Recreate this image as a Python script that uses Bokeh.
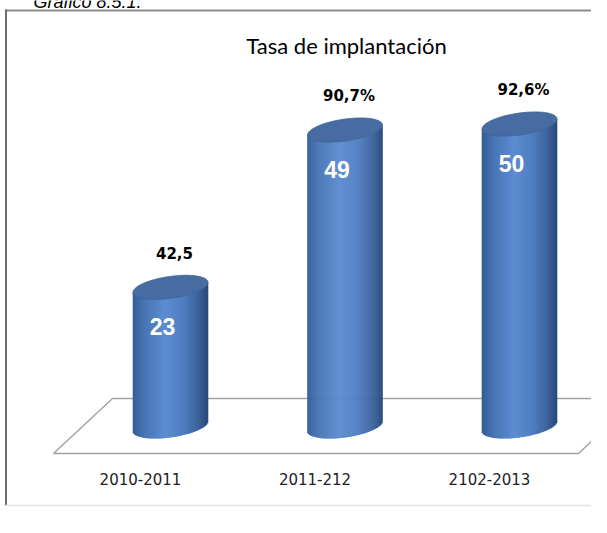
import numpy as np
from bokeh.plotting import figure
from bokeh.models import ColumnDataSource
from bokeh.core.properties import value
from bokeh.embed import file_html
from bokeh.resources import INLINE

# ---- data ----
categories = ["2010-2011", "2011-212", "2102-2013"]
counts = [23, 49, 50]
rate_labels = ["42,5", "90,7%", "92,6%"]
title_text = "Tasa de implantación"
caption_text = "Gráfico 8.5.1."

# ---- layout constants (pixels) ----
W, H = 591, 517
KX = 174.5      # px per category step
KY = 6.05       # px per unit
X0 = 170        # px position of first category
BASE = 426      # px (from top) of value 0
x_start = -X0 / KX
x_end = x_start + W / KX
y_end = BASE / KY
y_start = y_end - H / KY


def dx(px):
    return x_start + px / KX


def dy(py):
    return y_end - py / KY


HW = 37.5 / KX   # half bar width (data units)
B = 11.0 / KY    # ellipse half height
T = 5.0 / KY     # tilt

p = figure(width=W, height=H, x_range=(x_start, x_end), y_range=(y_start, y_end),
           x_axis_type=None, y_axis_type=None, toolbar_location=None,
           output_backend="svg", min_border=0, outline_line_color=None,
           background_fill_color="white", border_fill_color="white")
p.xgrid.visible = False
p.ygrid.visible = False

# caption (cut at the top, as in the source image)
p.text(x=[dx(33)], y=[dy(1.5)], text=[caption_text],
       text_font=value("Liberation Sans"), text_font_style="italic", text_font_size="18px",
       text_color="black", text_align="left", text_baseline="alphabetic")

# frame lines
p.segment(x0=[dx(5)], y0=[dy(10)], x1=[dx(W + 20)], y1=[dy(10)], line_color="#8C8C8C", line_width=2)
p.segment(x0=[dx(5.5)], y0=[dy(9)], x1=[dx(5.5)], y1=[dy(505)], line_color="#6E6E6E", line_width=2)
p.segment(x0=[dx(5)], y0=[dy(505)], x1=[dx(W + 20)], y1=[dy(505)], line_color="#E3E3E3", line_width=1.5)

# floor
p.patch(x=[dx(112), dx(637), dx(578), dx(53)], y=[dy(398), dy(398), dy(453), dy(453)],
        fill_color="white", line_color="#A3A3A3", line_width=1.5)

# gradient for cylinder body
stops_u = [-1.0, -0.7, -0.15, 0.35, 0.75, 1.0]
stops_c = [(52, 92, 150), (72, 116, 180), (91, 141, 209), (80, 126, 192), (60, 99, 158), (40, 72, 122)]


def grad(u):
    r = np.interp(u, stops_u, [c[0] for c in stops_c])
    g = np.interp(u, stops_u, [c[1] for c in stops_c])
    b = np.interp(u, stops_u, [c[2] for c in stops_c])
    return "#%02x%02x%02x" % (int(round(r)), int(round(g)), int(round(b)))


N = 75
sx, stop, sbot, scol = [], [], [], []
for i, v in enumerate(counts):
    for j in range(N):
        u = -1 + (2 * j + 1) / N
        sx.append(i + u * HW)
        stop.append(v + T * u)
        sbot.append(T * u - B * np.sqrt(max(0.0, 1 - u * u)))
        scol.append(grad(u))
src = ColumnDataSource(dict(x=sx, top=stop, bottom=sbot, color=scol))
p.vbar(x="x", top="top", bottom="bottom", width=2 * HW / N * 1.6, source=src,
       fill_color="color", line_color=None)

# top ellipses
t = np.linspace(0, 2 * np.pi, 90)
exs, eys = [], []
for i, v in enumerate(counts):
    exs.append(list(i + HW * np.cos(t)))
    eys.append(list(v + T * np.cos(t) + B * np.sin(t)))
p.patches(xs=exs, ys=eys, fill_color="#466CA1", line_color="#3F6496", line_width=0.8)

idx = list(range(len(counts)))
# value labels inside bars
p.text(x=[i - 8 / KX for i in idx], y=[v - 39 / KY for v in counts], text=[str(c) for c in counts],
       text_font=value("Liberation Sans"), text_font_style="bold", text_font_size="23px",
       text_color="white", text_align="center", text_baseline="middle")

# rate labels above bars
p.text(x=[i + 4 / KX for i in idx], y=[v + 34 / KY for v in counts], text=rate_labels,
       text_font=value("DejaVu Sans"), text_font_style="bold", text_font_size="15px",
       text_color="black", text_align="center", text_baseline="middle")

# category labels
p.text(x=[i - 30 / KX for i in idx], y=[dy(478)] * 3, text=categories,
       text_font=value("DejaVu Sans"), text_font_size="15px",
       text_color="#222222", text_align="center", text_baseline="middle")

# title
p.text(x=[dx(346)], y=[dy(45)], text=[title_text],
       text_font=value("Lato"), text_font_size="22px",
       text_color="black", text_align="center", text_baseline="middle")

open("out.html", "w").write(file_html(p, INLINE))
